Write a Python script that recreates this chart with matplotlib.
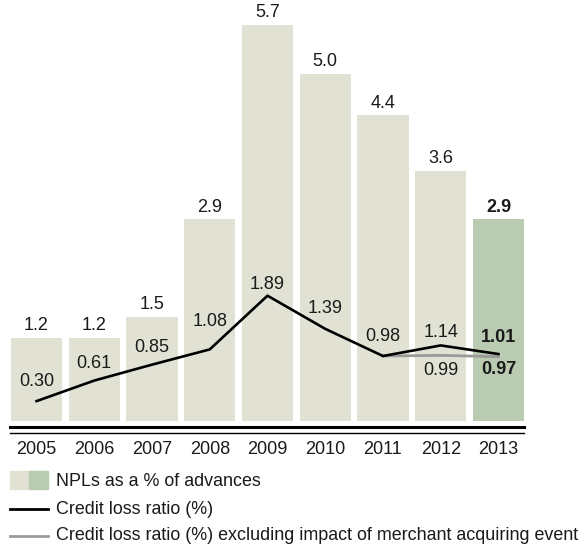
import matplotlib.pyplot as plt
from matplotlib.lines import Line2D
from matplotlib.patches import Rectangle

plt.rcParams['font.family'] = ['Liberation Sans', 'DejaVu Sans']

years = ['2005', '2006', '2007', '2008', '2009', '2010', '2011', '2012', '2013']
npl = [1.2, 1.2, 1.5, 2.9, 5.7, 5.0, 4.4, 3.6, 2.9]
npl_labels = ['1.2', '1.2', '1.5', '2.9', '5.7', '5.0', '4.4', '3.6', '2.9']
credit_loss = [0.30, 0.61, 0.85, 1.08, 1.89, 1.39, 0.98, 1.14, 1.01]
# excluding merchant acquiring event, 2011 onwards
excl_years = [6, 7, 8]
credit_loss_excl = [0.98, 0.99, 0.97]

light = '#e1e2d3'
green = '#b9cbb0'
txt = '#1a1a1a'
fs = 13

fig = plt.figure(figsize=(5.86, 5.46), dpi=100)
ax = fig.add_axes([10 / 586, 125 / 546, 515 / 586, 411 / 546])
ax2 = ax.twinx()

x = list(range(len(years)))
colors = [light] * (len(years) - 1) + [green]
ax.bar(x, npl, width=0.885, color=colors, zorder=1)
ax.set_xlim(-0.46, 8.46)
ax.set_ylim(0, 411 / 69.5)
ax2.set_ylim(0, 411 / 66.3)

for i, (v, s) in enumerate(zip(npl, npl_labels)):
    ax.annotate(s, (i, v), xytext=(0, 2.5), textcoords='offset points',
                ha='center', va='bottom', fontsize=fs, color=txt,
                fontweight='bold' if i == 8 else 'normal')

ax2.plot(excl_years, credit_loss_excl, color='#9a9a9a', lw=2.0, zorder=2)
ax2.plot(x, credit_loss, color='black', lw=1.9, zorder=3)

# vertical offsets (points) of the credit loss labels
offs = [14, 12, 12, 20, 8, 15, 14, 9, 12]
for i, v in enumerate(credit_loss):
    ax2.annotate(f'{v:.2f}', (i, v), xytext=(0, offs[i]), textcoords='offset points',
                 ha='center', va='center', fontsize=fs, color=txt,
                 fontweight='bold' if i == 8 else 'normal')
excl_offs = [None, -11, -9]
for j, (i, v) in enumerate(zip(excl_years, credit_loss_excl)):
    if excl_offs[j] is None:
        continue
    ax2.annotate(f'{v:.2f}', (i, v), xytext=(0, excl_offs[j]), textcoords='offset points',
                 ha='center', va='center', fontsize=fs, color=txt,
                 fontweight='bold' if i == 8 else 'normal')

for a in (ax, ax2):
    a.axis('off')

# double rule under the bars
fig.add_artist(Line2D([10 / 586, 524 / 586], [1 - 427 / 546] * 2, color='black', lw=2.2))
fig.add_artist(Line2D([10 / 586, 524 / 586], [1 - 433 / 546] * 2, color='black', lw=1.0))

for i, y in enumerate(years):
    ax.text(i, -(450 - 421) / 411, y, transform=ax.get_xaxis_transform(),
            ha='center', va='center', fontsize=fs, color=txt)

# legend
fig.add_artist(Rectangle((10 / 586, 1 - 489 / 546), 19 / 586, 18 / 546, color=light,
                         transform=fig.transFigure))
fig.add_artist(Rectangle((29 / 586, 1 - 489 / 546), 19 / 586, 18 / 546, color=green,
                         transform=fig.transFigure))
fig.add_artist(Line2D([10 / 586, 48 / 586], [1 - 509 / 546] * 2, color='black', lw=2.0))
fig.add_artist(Line2D([10 / 586, 48 / 586], [1 - 536 / 546] * 2, color='#9a9a9a', lw=2.0))
leg_items = ['NPLs as a % of advances', 'Credit loss ratio (%)',
             'Credit loss ratio (%) excluding impact of merchant acquiring event']
for s, yy in zip(leg_items, [481, 509, 536]):
    fig.text(56 / 586, 1 - yy / 546, s, ha='left', va='center', fontsize=fs - 0.1, color=txt)

fig.savefig('out.png', dpi=100)
